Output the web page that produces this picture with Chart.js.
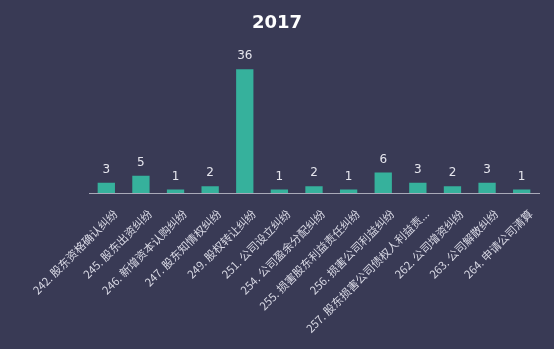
<!DOCTYPE html>
<html>
<head>
<meta charset="utf-8">
<script src="https://cdn.jsdelivr.net/npm/chart.js@4/dist/chart.umd.min.js"></script>
<style>
html,body{margin:0;padding:0;background:#393a55;}
#wrap{width:554px;height:349px;}
</style>
</head>
<body>
<div id="wrap"><canvas id="c"></canvas></div>
<script>
var TITLE = '2017';
var CATEGORIES = [
	'242. 股东资格确认纠纷',
	'245. 股东出资纠纷',
	'246. 新增资本认购纠纷',
	'247. 股东知情权纠纷',
	'249. 股权转让纠纷',
	'251. 公司设立纠纷',
	'254. 公司盈余分配纠纷',
	'255. 损害股东利益责任纠纷',
	'256. 损害公司利益纠纷',
	'257. 股东损害公司债权人利益责任纠纷',
	'262. 公司增资纠纷',
	'263. 公司解散纠纷',
	'264. 申请公司清算'
];
var COUNTS = [3, 5, 1, 2, 36, 1, 2, 1, 6, 3, 2, 3, 1];

var FONT = '"Noto Sans CJK SC", "Noto Sans", sans-serif';

// value labels above each bar
var valueLabels = {
	id: 'valueLabels',
	afterDatasetsDraw: function(chart) {
		var ctx = chart.ctx;
		var meta = chart.getDatasetMeta(0);
		ctx.save();
		ctx.font = '12px "DejaVu Sans", sans-serif';
		ctx.fillStyle = '#e6e6ee';
		ctx.textAlign = 'center';
		ctx.textBaseline = 'bottom';
		meta.data.forEach(function(bar, i) {
			ctx.fillText(COUNTS[i], bar.x, bar.y - 7);
		});
		ctx.restore();
	}
};

var ctx = document.getElementById('c').getContext('2d');
new Chart(ctx, {
	type: 'bar',
	data: {
		labels: CATEGORIES,
		datasets: [{
			data: COUNTS,
			backgroundColor: '#36b19c',
			barPercentage: 0.5,
			categoryPercentage: 1
		}]
	},
	options: {
		responsive: true,
		maintainAspectRatio: false,
		animation: false,
		layout: {padding: {left: 15, right: 15, top: 0, bottom: 0}},
		plugins: {
			legend: {display: false},
			tooltip: {enabled: false},
			title: {
				display: true,
				text: TITLE,
				color: '#ffffff',
				font: {size: 18, weight: 'bold', family: '"DejaVu Sans", sans-serif'},
				padding: {top: 13, bottom: 21}
			}
		},
		scales: {
			x: {
				grid: {display: false, drawTicks: false},
				border: {display: true, color: '#a9a9b8', width: 1},
				ticks: {
					color: '#d8d8e4',
					font: {size: 11.2, family: FONT},
					maxRotation: 45,
					minRotation: 45,
					autoSkip: false,
					padding: 14,
					labelOffset: 9,
					callback: function(v, i) {
						var s = CATEGORIES[i];
						return s.length > 17 ? s.slice(0, 17) + '...' : s;
					}
				},
				afterFit: function(s) {
					s.paddingLeft = 0;
					s.paddingRight = 0;
					s.height = 156;
				}
			},
			y: {
				display: true,
				min: 0,
				max: 40,
				grid: {display: false, drawTicks: false},
				border: {display: false},
				ticks: {display: false},
				afterFit: function(s) {
					s.width = 74;
				}
			}
		}
	},
	plugins: [valueLabels]
});
</script>
</body>
</html>
